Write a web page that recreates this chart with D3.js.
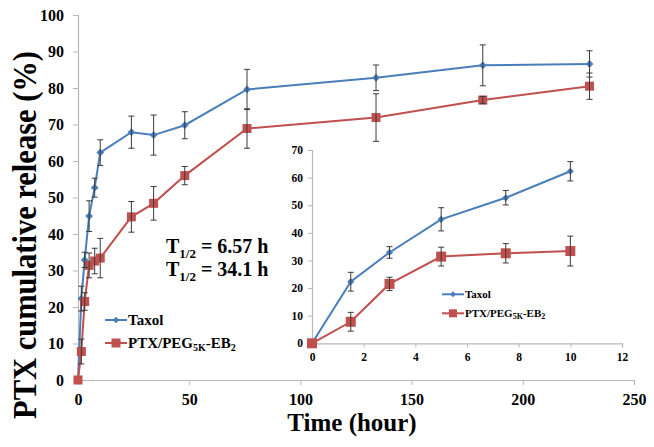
<!DOCTYPE html>
<html><head><meta charset="utf-8">
<script src="https://cdn.jsdelivr.net/npm/d3@7"></script>
<style>
html,body{margin:0;padding:0;background:#fff;}
</style></head>
<body><svg id="c" width="654" height="447"></svg>
<script>
// ---- data ----
const times = [0, 1.5, 3, 5, 7.5, 10, 24, 34, 48, 76, 134, 182, 230];
const taxol = [0, 22.3, 32.9, 44.9, 52.7, 62.3, 67.9, 67.1, 69.8, 79.6, 82.8, 86.2, 86.6];
const taxolErr = [0, 3.4, 2.1, 4.2, 2.6, 3.5, 4.4, 5.5, 3.7, 5.5, 3.5, 5.6, 3.6];
const peg = [0, 7.8, 21.5, 31.4, 32.6, 33.4, 44.7, 48.4, 56.0, 68.9, 71.9, 76.7, 80.5];
const pegErr = [0, 3.4, 2.4, 3.4, 3.5, 5.4, 4.2, 4.6, 2.5, 5.4, 6.5, 1.0, 3.6];
const mainXTicks = [0, 50, 100, 150, 200, 250];
const mainYTicks = [0, 10, 20, 30, 40, 50, 60, 70, 80, 90, 100];
const insetXTicks = [0, 2, 4, 6, 8, 10, 12];
const insetYTicks = [0, 10, 20, 30, 40, 50, 60, 70];
const seriesNames = ["Taxol", "PTX/PEG5K-EB2"];

const FONT = "'Liberation Serif','Times New Roman',serif";
const BLUE = "#4a7ebb", RED = "#c0504d", AXIS = "#b8b8b8", ERR = "#3a3a3a";
const svg = d3.select("#c");

const mainData = [
  times.map((t, i) => ({t, v: taxol[i], e: taxolErr[i]})),
  times.map((t, i) => ({t, v: peg[i], e: pegErr[i]}))
];
const insetData = mainData.map(s => s.filter(d => d.t <= 10));

function drawPanel(g, data, x, y, opt) {
  const xa = d3.axisBottom(x).tickValues(opt.xt).tickSize(opt.tk).tickPadding(opt.xpad).tickFormat(d3.format("d"));
  const ya = d3.axisLeft(y).tickValues(opt.yt).tickSize(opt.tk).tickPadding(opt.ypad).tickFormat(d3.format("d"));
  const gx = g.append("g").attr("transform", `translate(0,${y(0)})`).call(xa);
  const gy = g.append("g").attr("transform", `translate(${x(0)},0)`).call(ya);
  [gx, gy].forEach(a => {
    a.attr("font-family", FONT);
    a.select(".domain").attr("stroke", AXIS).attr("stroke-width", 1.2);
    a.selectAll(".tick line").attr("stroke", AXIS);
    a.selectAll(".tick text").style("font-size", opt.fs + "px").style("font-family", FONT)
      .style("font-weight", "bold").attr("fill", "#000");
  });
  const colors = [BLUE, RED];
  const line = d3.line().x(d => x(d.t)).y(d => y(d.v));
  data.forEach((s, si) => {
    g.append("path").datum(s).attr("d", line).attr("fill", "none")
      .attr("stroke", colors[si]).attr("stroke-width", opt.lw);
  });
  data.forEach((s, si) => {
    const c = colors[si];
    if (si === 0) {
      g.selectAll(null).data(s).enter().append("path")
        .attr("d", d3.symbol(d3.symbolSquare, opt.dsz))
        .attr("transform", d => `translate(${x(d.t)},${y(d.v)}) rotate(45)`)
        .attr("fill", c);
    } else {
      g.selectAll(null).data(s).enter().append("rect")
        .attr("x", d => x(d.t) - opt.sq / 2).attr("y", d => y(d.v) - opt.sq / 2)
        .attr("width", opt.sq).attr("height", opt.sq).attr("fill", c);
    }
  });
  data.forEach(s => {
    const eb = s.filter(d => d.e > 0);
    const ge = g.append("g").attr("stroke", ERR).attr("stroke-width", 1).attr("fill", "none");
    ge.selectAll(null).data(eb).enter().append("line")
      .attr("x1", d => x(d.t)).attr("x2", d => x(d.t))
      .attr("y1", d => y(d.v + d.e)).attr("y2", d => y(d.v - d.e));
    [1, -1].forEach(sg => {
      ge.selectAll(null).data(eb).enter().append("line")
        .attr("x1", d => x(d.t) - 3).attr("x2", d => x(d.t) + 3)
        .attr("y1", d => y(d.v + sg * d.e)).attr("y2", d => y(d.v + sg * d.e));
    });
  });
}

function txt(sel) {
  return sel.style("font-family", FONT).style("font-weight", "bold").attr("fill", "#000");
}

function legend(g, x0, y0, gap, len, fs, sq, dsz, subfs) {
  const colors = [BLUE, RED];
  seriesNames.forEach((n, i) => {
    const yy = y0 + i * gap;
    g.append("line").attr("x1", x0).attr("x2", x0 + len).attr("y1", yy).attr("y2", yy)
      .attr("stroke", colors[i]).attr("stroke-width", 2);
    if (i === 0) {
      g.append("path").attr("d", d3.symbol(d3.symbolSquare, dsz))
        .attr("transform", `translate(${x0 + len / 2},${yy}) rotate(45)`).attr("fill", colors[i]);
    } else {
      g.append("rect").attr("x", x0 + len / 2 - sq / 2).attr("y", yy - sq / 2)
        .attr("width", sq).attr("height", sq).attr("fill", colors[i]);
    }
    const t = txt(g.append("text")).attr("x", x0 + len + 1).attr("y", yy + fs * 0.33).style("font-size", fs + "px");
    if (i === 0) t.text(n);
    else {
      t.append("tspan").text("PTX/PEG");
      t.append("tspan").text("5K").style("font-size", subfs + "px").attr("dy", fs * 0.22);
      t.append("tspan").text("-EB").attr("dy", -fs * 0.22);
      t.append("tspan").text("2").style("font-size", subfs + "px").attr("dy", fs * 0.22);
    }
  });
}

// main panel
const x = d3.scaleLinear().domain([0, 250]).range([78, 634]);
const y = d3.scaleLinear().domain([0, 100]).range([380, 15]);
const gm = svg.append("g");
drawPanel(gm, mainData, x, y, {xt: mainXTicks, yt: mainYTicks, tk: 5, xpad: 9, ypad: 9, fs: 16, lw: 2, dsz: 30, sq: 9});

// inset panel
const xi = d3.scaleLinear().domain([0, 12]).range([312, 622]);
const yi = d3.scaleLinear().domain([0, 70]).range([343.3, 150]);
const gi = svg.append("g");
drawPanel(gi, insetData, xi, yi, {xt: insetXTicks, yt: insetYTicks, tk: 4, xpad: 6, ypad: 5, fs: 11.5, lw: 2, dsz: 26, sq: 10});

// legends
legend(gm, 105, 320, 23, 22, 15, 9, 22, 10);
legend(gi, 442, 294.3, 19, 22, 11, 8, 18, 8);

// T1/2 annotation
[["6.57 h", 253], ["34.1 h", 276]].forEach(([v, by]) => {
  const t = txt(svg.append("text")).attr("x", 166).attr("y", by).style("font-size", "20px");
  t.append("tspan").text("T");
  t.append("tspan").text("1/2").style("font-size", "13px").attr("dy", 5);
  t.append("tspan").text(" = " + v).attr("dy", -5);
});

// axis titles
txt(svg.append("text")).attr("x", 352).attr("y", 431).attr("text-anchor", "middle")
  .style("font-size", "25px").text("Time (hour)");
txt(svg.append("text")).attr("transform", "translate(36,235) rotate(-90)").attr("text-anchor", "middle")
  .style("font-size", "33px").attr("textLength", 368).attr("lengthAdjust", "spacingAndGlyphs")
  .text("PTX cumulative release (%)");
</script></body></html>
